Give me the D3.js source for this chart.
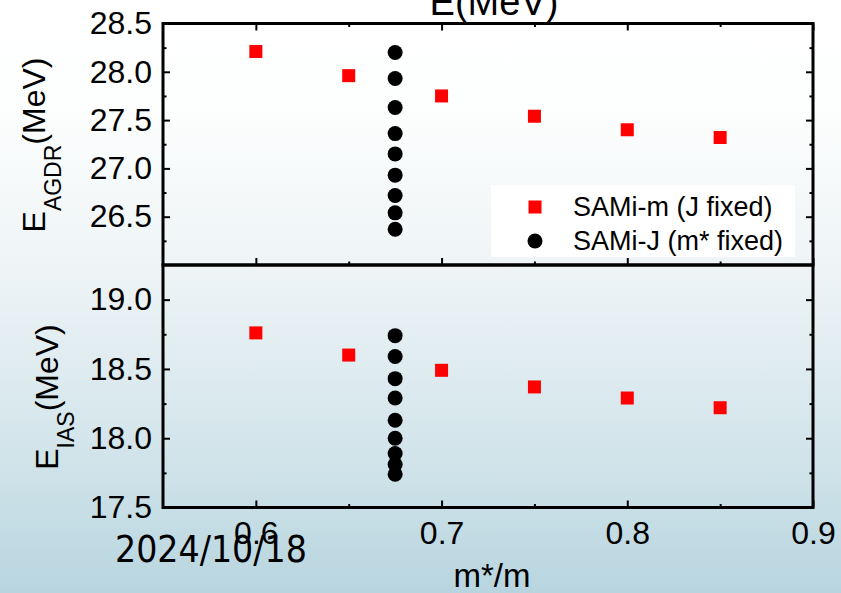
<!DOCTYPE html>
<html>
<head>
<meta charset="utf-8">
<script src="https://cdn.jsdelivr.net/npm/d3@7"></script>
<style>
  html, body { margin: 0; padding: 0; overflow: hidden; }
  svg { display: block; }
  text { font-family: "Liberation Sans", Arial, sans-serif; fill: #000; }
</style>
</head>
<body>
<svg id="chart" width="841" height="593"></svg>
<script>
// Effective-mass ratio m*/m for the SAMi-m family (J fixed)
const massRatios = [0.60, 0.65, 0.70, 0.75, 0.80, 0.85];
const agdrMassSeries = [28.21, 27.96, 27.75, 27.54, 27.40, 27.32];
const iasMassSeries = [18.76, 18.60, 18.49, 18.37, 18.29, 18.22];

// SAMi-J family (m* fixed): all points share one m*/m
const fixedMassRatio = 0.675;
const agdrJSeries = [28.20, 27.93, 27.63, 27.36, 27.15, 26.93, 26.72, 26.54, 26.37];
const iasJSeries = [18.74, 18.59, 18.43, 18.29, 18.13, 18.00, 17.89, 17.81, 17.74];

const xMajorTicks = [0.6, 0.7, 0.8, 0.9];
const xMinorTicks = [0.65, 0.75, 0.85];
const agdrMajorTicks = [26.5, 27.0, 27.5, 28.0, 28.5];
const agdrMinorTicks = [26.25, 26.75, 27.25, 27.75, 28.25];
const iasMajorTicks = [17.5, 18.0, 18.5, 19.0];
const iasMinorTicks = [17.75, 18.25, 18.75];

const legendLabels = ["SAMi-m (J fixed)", "SAMi-J (m* fixed)"];

const svg = d3.select("#chart");
const W = 841, H = 593;

// page background
const defs = svg.append("defs");
const grad = defs.append("linearGradient")
  .attr("id", "bg").attr("x1", 0).attr("y1", 0).attr("x2", 0).attr("y2", 1);
[[0, "#ffffff"], [0.18, "#fdfefe"], [0.45, "#eef4f6"], [0.75, "#d3e5eb"], [1, "#b8d5df"]]
  .forEach(([o, c]) => grad.append("stop").attr("offset", o).attr("stop-color", c));
svg.append("rect").attr("width", W).attr("height", H).attr("fill", "url(#bg)");

const left = 163, right = 813;
const topY = 23.5, midY = 265, botY = 507.5;

const x = d3.scaleLinear().domain([0.55, 0.9]).range([left, right]);
const yTop = d3.scaleLinear().domain([26.0, 28.5]).range([midY, topY]);
const yBot = d3.scaleLinear().domain([17.5, 19.25]).range([botY, midY]);

const fmt = d3.format(".1f");
const MAJ = 7, MIN = 3.5;

function styleAxis(g) {
  g.select(".domain").remove();
  g.selectAll(".tick line").attr("stroke", "#000").attr("stroke-width", 2);
  g.selectAll("text").attr("font-size", 32).attr("fill", "#000")
    .attr("font-family", "'Liberation Sans', Arial, sans-serif");
}

function drawPanel(y, majors, minors, y0, showXLabels) {
  // left axis
  svg.append("g").attr("transform", `translate(${left},0)`)
    .call(d3.axisLeft(y).tickValues(majors).tickSize(-MAJ).tickPadding(11).tickFormat(fmt))
    .call(styleAxis);
  svg.append("g").attr("transform", `translate(${left},0)`)
    .call(d3.axisLeft(y).tickValues(minors).tickSize(-MIN).tickFormat(""))
    .call(styleAxis);
  // right axis (mirror ticks)
  svg.append("g").attr("transform", `translate(${right},0)`)
    .call(d3.axisRight(y).tickValues(majors).tickSize(-MAJ).tickFormat(""))
    .call(styleAxis);
  svg.append("g").attr("transform", `translate(${right},0)`)
    .call(d3.axisRight(y).tickValues(minors).tickSize(-MIN).tickFormat(""))
    .call(styleAxis);
  // bottom axis
  svg.append("g").attr("transform", `translate(0,${y0})`)
    .call(d3.axisBottom(x).tickValues(xMajorTicks).tickSize(-MAJ).tickPadding(14)
      .tickFormat(showXLabels ? d3.format(".1f") : ""))
    .call(styleAxis);
  svg.append("g").attr("transform", `translate(0,${y0})`)
    .call(d3.axisBottom(x).tickValues(xMinorTicks).tickSize(-MIN).tickFormat(""))
    .call(styleAxis);
}

// upper panel: top axis ticks
svg.append("g").attr("transform", `translate(0,${topY})`)
  .call(d3.axisTop(x).tickValues(xMajorTicks).tickSize(-MAJ).tickFormat(""))
  .call(styleAxis);
svg.append("g").attr("transform", `translate(0,${topY})`)
  .call(d3.axisTop(x).tickValues(xMinorTicks).tickSize(-MIN).tickFormat(""))
  .call(styleAxis);

drawPanel(yTop, agdrMajorTicks, agdrMinorTicks, midY, false);
drawPanel(yBot, iasMajorTicks, iasMinorTicks, botY, true);

// frames
[[topY, midY], [midY, botY]].forEach(([a, b]) => {
  svg.append("rect").attr("x", left).attr("y", a)
    .attr("width", right - left).attr("height", b - a)
    .attr("fill", "none").attr("stroke", "#000").attr("stroke-width", 3);
});

// markers
const SQ = 13, R = 7.5;
function drawSeries(y, sqVals, circVals) {
  svg.append("g").selectAll("rect").data(sqVals).join("rect")
    .attr("x", (d, i) => x(massRatios[i]) - SQ / 2)
    .attr("y", d => y(d) - SQ / 2)
    .attr("width", SQ).attr("height", SQ).attr("fill", "#ff0000");
  svg.append("g").selectAll("circle").data(circVals).join("circle")
    .attr("cx", x(fixedMassRatio)).attr("cy", d => y(d))
    .attr("r", R).attr("fill", "#000");
}
drawSeries(yTop, agdrMassSeries, agdrJSeries);
drawSeries(yBot, iasMassSeries, iasJSeries);

// legend
const lg = svg.append("g");
lg.append("rect").attr("x", 491).attr("y", 185).attr("width", 304).attr("height", 72).attr("fill", "#ffffff");
lg.append("rect").attr("x", 535 - SQ / 2).attr("y", 207 - SQ / 2).attr("width", SQ).attr("height", SQ).attr("fill", "#ff0000");
lg.append("circle").attr("cx", 535).attr("cy", 241).attr("r", R).attr("fill", "#000");
lg.selectAll("text").data(legendLabels).join("text")
  .attr("x", 573).attr("y", (d, i) => 216 + i * 34)
  .attr("font-size", 27).text(d => d);

// y-axis titles with subscripts
function yTitle(cx, cy, sub) {
  const t = svg.append("text")
    .attr("transform", `translate(${cx},${cy}) rotate(-90)`)
    .attr("text-anchor", "middle").attr("font-size", 32);
  t.append("tspan").text("E");
  t.append("tspan").attr("font-size", 23).attr("dy", 16).text(sub);
  t.append("tspan").attr("dy", -16).text("(MeV)");
}
yTitle(45, 145, "AGDR");
yTitle(58, 397, "IAS");

// header text, partly above the page edge
svg.append("text").attr("x", 494).attr("y", 15).attr("text-anchor", "middle")
  .attr("font-size", 38).text("E(MeV)");

// x-axis title
svg.append("text").attr("x", 492).attr("y", 587).attr("text-anchor", "middle")
  .attr("font-size", 33).text("m*/m");

// date stamp
svg.append("text").attr("x", 115).attr("y", 562)
  .style("font-family", "'DejaVu Sans Condensed', 'DejaVu Sans', sans-serif")
  .style("font-stretch", "condensed")
  .attr("font-size", 37).attr("fill", "#111").text("2024/10/18");
</script>
</body>
</html>
